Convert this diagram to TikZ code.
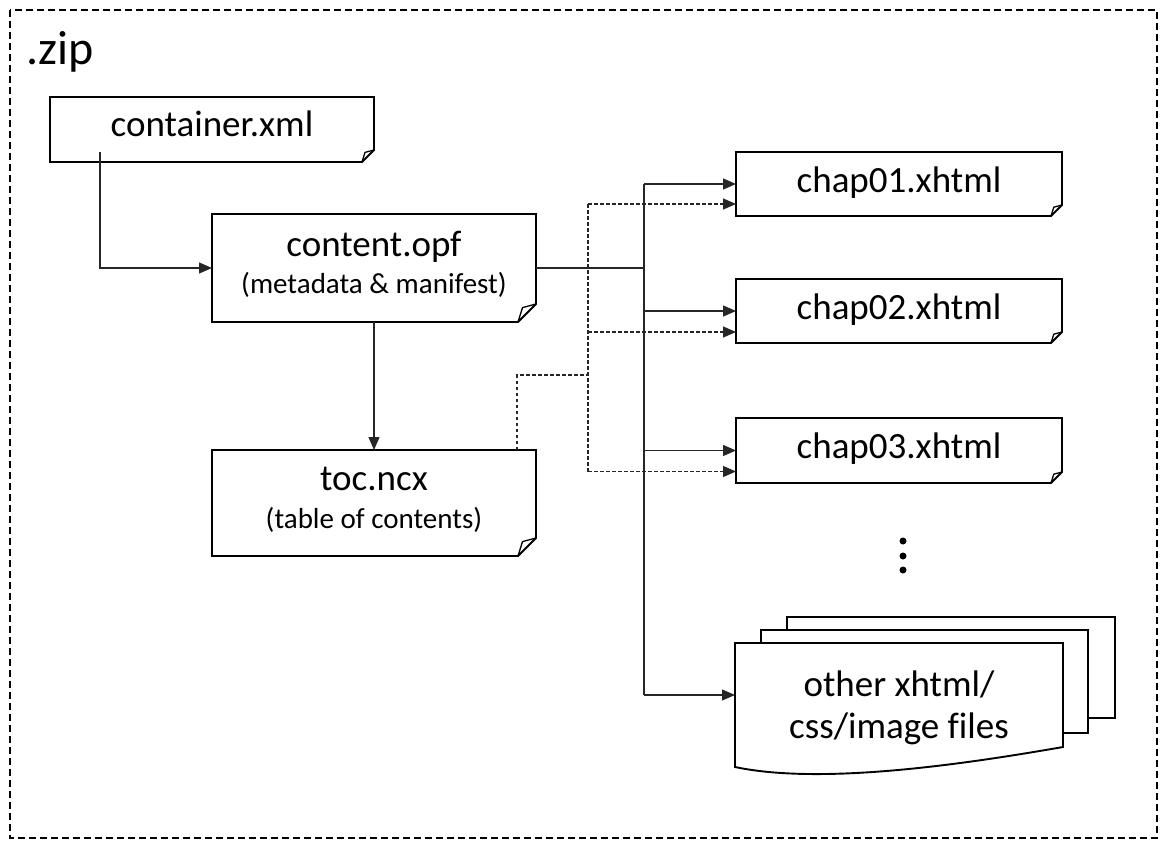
\documentclass[tikz,border=0pt]{standalone}
\usepackage{fontspec}
\setmainfont[Ligatures=CommonOff]{Carlito}
\usetikzlibrary{arrows.meta,calc}
\tikzset{
  x=1pt, y=-1pt,
  docbox/.style={inner sep=0pt, outer sep=0pt},
  docline/.style={line width=1.9pt, line join=miter, fill=white},
  foldline/.style={line width=1.3pt, line join=round},
  maintext/.style={anchor=base, inner sep=0pt, font=\fontsize{37}{44}\selectfont},
  subtext/.style={anchor=base, inner sep=0pt, font=\fontsize{29}{35}\selectfont},
  ziptext/.style={anchor=base west, inner sep=0pt, font=\fontsize{48}{56}\selectfont},
  wire/.style={line width=1.3pt, draw=black!85},
  conn/.style={wire, -{Triangle[length=13pt,width=11pt]}},
  dwire/.style={wire, dash pattern=on 3.5pt off 2.5pt},
  dconn/.style={dwire, -{Triangle[length=13pt,width=11pt]}},
  outerline/.style={line width=1.5pt, dash pattern=on 7pt off 4pt}
}
\newcommand{\docoutline}[2]{%
  \draw[docline] (#1.north west) -- (#1.north east) -- ([yshift=#2pt]#1.south east)
    -- ([xshift=-#2pt]#1.south east) -- (#1.south west) -- cycle;
  \draw[foldline] ([yshift=#2pt]#1.south east) -- ([xshift=-0.75*#2pt,yshift=0.8*#2pt]#1.south east)
    -- ([xshift=-#2pt]#1.south east);}
\begin{document}
\begin{tikzpicture}
\useasboundingbox (0,0) rectangle (1170,848);
\draw[outerline] (10,10) rectangle (1157,838);
\node[ziptext] (zip) at (26,65) {.zip};

% boxes
\node[docbox, minimum width=324pt, minimum height=65pt] (cont) at (212,129.5) {};
\node[docbox, minimum width=324pt, minimum height=108pt] (opf) at (374,268) {};
\node[docbox, minimum width=324pt, minimum height=106pt] (toc) at (374,503) {};
\node[docbox, minimum width=326pt, minimum height=64pt] (ch1) at (899,184) {};
\node[docbox, minimum width=326pt, minimum height=64pt] (ch2) at (899,311) {};
\node[docbox, minimum width=326pt, minimum height=65pt] (ch3) at (899,450.5) {};
\node[docbox, minimum width=328pt, minimum height=101pt] (oth3) at (951,667.5) {};
\node[docbox, minimum width=327pt, minimum height=103pt] (oth2) at (924.5,681.5) {};
\node[docbox, minimum width=328pt, minimum height=104pt] (oth) at (899,695) {};

\docoutline{cont}{12}
\docoutline{opf}{18}
\docoutline{toc}{18}
\docoutline{ch1}{11}
\docoutline{ch2}{11}
\docoutline{ch3}{11}
\draw[docline] (oth3.north west) rectangle (oth3.south east);
\draw[docline] (oth2.north west) rectangle (oth2.south east);
\draw[docline] (oth.north west) -- (oth.north east) -- (oth.south east)
  .. controls ($(oth.south east)+(-103,18)$) and ($(oth.south west)+(85,38)$) .. ($(oth.south west)+(0,20)$) -- cycle;

% texts
\node[maintext] (t-cont) at (212,137) {container.xml};
\node[maintext] (t-opf) at (374,256) {content.opf};
\node[subtext] (s-opf) at (374,293) {(metadata \& manifest)};
\node[maintext] (t-toc) at (374,490) {toc.ncx};
\node[subtext] (s-toc) at (374,528) {(table of contents)};
\node[maintext] (t-ch1) at (899,192) {chap01.xhtml};
\node[maintext] (t-ch2) at (899,319) {chap02.xhtml};
\node[maintext] (t-ch3) at (899,458) {chap03.xhtml};
\node[maintext] (t-oth1) at (899,696) {other xhtml/};
\node[maintext] (t-oth2) at (899,738) {css/image files};

% dots
\fill (903,541) circle (3.5pt);
\fill (903,556) circle (3.5pt);
\fill (903,570) circle (3.5pt);

% solid connectors
\coordinate (cstart) at (100,152);
\draw[conn] (cstart) |- (opf.west);
\draw[conn] (opf.south) -- (toc.north);
\coordinate (trunk) at (644,0);
\draw[wire] (opf.east) -- (opf.east -| trunk);
\draw[wire] (ch1.west -| trunk) -- (oth.west -| trunk);
\draw[conn] (ch1.west -| trunk) -- (ch1.west);
\draw[conn] (ch2.west -| trunk) -- (ch2.west);
\draw[conn] (ch3.west -| trunk) -- (ch3.west);
\draw[conn] (oth.west -| trunk) -- (oth.west);

% dashed connectors
\coordinate (dtrunk) at (588,0);
\coordinate (dk) at (517,375);
\coordinate (d1) at ([yshift=-20pt]ch1.west);
\coordinate (d2) at ([yshift=-21pt]ch2.west);
\coordinate (d3) at ([yshift=-21pt]ch3.west);
\draw[dwire] (toc.north -| dk) -- (dk) -- (dk -| dtrunk);
\draw[dwire] (d1 -| dtrunk) -- (d3 -| dtrunk);
\draw[dconn] (d1 -| dtrunk) -- (d1);
\draw[dconn] (d2 -| dtrunk) -- (d2);
\draw[dconn] (d3 -| dtrunk) -- (d3);
\end{tikzpicture}
\end{document}
